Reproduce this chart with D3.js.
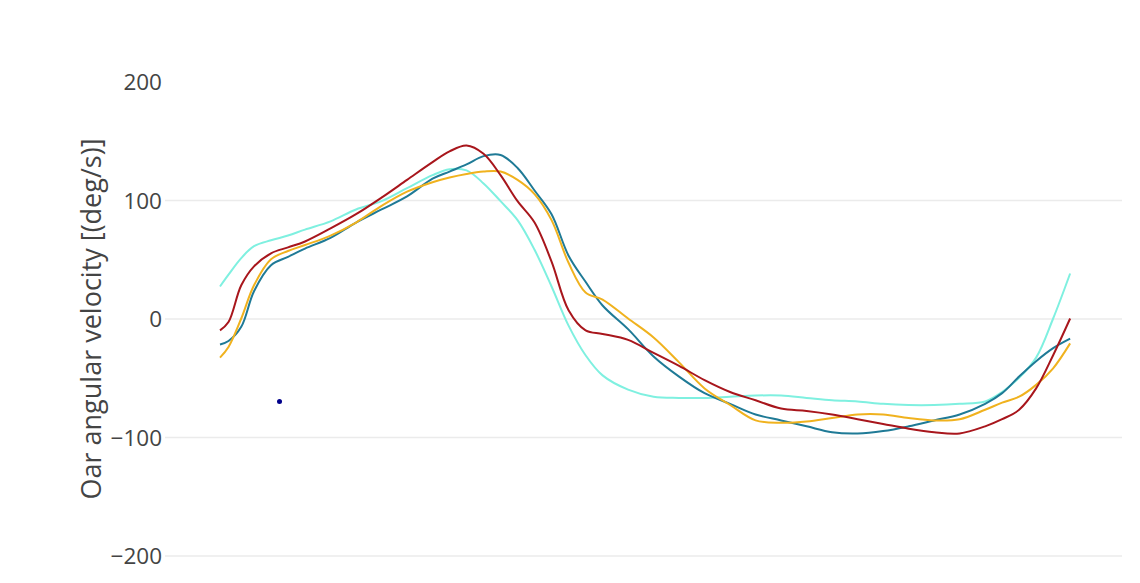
<!DOCTYPE html>
<html>
<head>
<meta charset="utf-8">
<script src="https://cdn.jsdelivr.net/npm/d3@7"></script>
<style>
  body { margin: 0; background: #fff; }
  .grid line { stroke: #ebebeb; stroke-width: 1.5; }
  .grid path { display: none; }
  .yaxis path, .yaxis line { display: none; }
  .yaxis text { font-family: "Open Sans", sans-serif; font-size: 22.5px; fill: #444; }
</style>
</head>
<body>
<div id="chart"></div>
<script>
// phase of the stroke (% of cycle), shared by all four traces
const phase = [0, 1, 2.5, 4, 6, 8, 10, 13, 16, 19, 22, 25, 27, 29, 31, 33, 35, 37, 39, 41, 43, 45,
  48, 51, 54, 57, 60, 63, 66, 69, 72, 75, 78, 81, 84, 87, 90, 92, 94, 96, 98, 100];

const aquaVals = [27, 37, 51, 61, 66, 70, 75, 82, 92, 99, 110, 121, 126, 125, 114, 99, 83, 58, 27, -6, -31, -48,
  -60, -66, -67, -67, -66, -65, -65, -67, -69, -70, -72, -73, -73, -72, -70, -62, -50, -33, 0, 38];

const tealVals = [-22, -19, -7, 23, 45, 52, 59, 68, 81, 92, 103, 118, 124, 130, 137, 138, 127, 108, 88, 53, 31, 11,
  -9, -32, -49, -63, -72, -81, -86, -91, -96, -97, -95, -91, -86, -81, -72, -63, -49, -36, -25, -17];

const orangeVals = [-33, -24, 0, 28, 50, 57, 62, 70, 81, 95, 107, 115, 119, 122, 124, 124, 117, 105, 83, 47, 22, 16,
  0, -16, -37, -59, -73, -86, -88, -87, -84, -81, -81, -84, -86, -85, -77, -71, -66, -56, -42, -21];

const redVals = [-10, -3, 28, 44, 55, 60, 65, 76, 88, 102, 117, 132, 141, 146, 139, 121, 99, 81, 48, 7, -10, -13,
  -18, -29, -40, -52, -62, -69, -76, -78, -81, -85, -89, -93, -96, -97, -91, -85, -77, -59, -31, 0];

// single marker
const markerX = [7];
const markerY = [-70];

const yTicks = [-200, -100, 0, 100, 200];
const gridTicks = [-200, -100, 0, 100];

const series = [
  { name: "aqua", values: aquaVals, color: "#7ff0e0" },
  { name: "teal", values: tealVals, color: "#1f7a96" },
  { name: "orange", values: orangeVals, color: "#f0b21e" },
  { name: "red", values: redVals, color: "#a8161c" }
];

const width = 1140, height = 583;

const svg = d3.select("#chart").append("svg")
  .attr("width", width)
  .attr("height", height);

const x = d3.scaleLinear().domain([-6.47, 106.1]).range([165, 1122]);
const y = d3.scaleLinear().domain([-200, 200]).range([555.5, 81.5]);

// horizontal grid
svg.append("g")
  .attr("class", "grid")
  .attr("transform", "translate(165,0)")
  .call(d3.axisLeft(y).tickValues(gridTicks).tickSize(-(1122 - 165)).tickFormat(""));

// y axis labels
svg.append("g")
  .attr("class", "yaxis")
  .attr("transform", "translate(162,0)")
  .call(d3.axisLeft(y).tickValues(yTicks).tickSize(0).tickPadding(0)
    .tickFormat(d => d < 0 ? "\u2212" + Math.abs(d) : d))
  .selectAll("text").attr("dy", "0.36em");

// y axis title
svg.append("text")
  .attr("transform", "translate(101,319) rotate(-90)")
  .attr("text-anchor", "middle")
  .style("font-family", "'Open Sans', sans-serif")
  .style("font-size", "27px")
  .style("fill", "#444")
  .text("Oar angular velocity [(deg/s)]");

const line = d3.line()
  .x((d, i) => x(phase[i]))
  .y(d => y(d))
  .curve(d3.curveCatmullRom.alpha(0.5));

svg.append("g").selectAll("path")
  .data(series)
  .enter()
  .append("path")
  .attr("d", s => line(s.values))
  .attr("fill", "none")
  .attr("stroke", s => s.color)
  .attr("stroke-width", 2);

svg.append("g").selectAll("circle")
  .data(markerX)
  .enter()
  .append("circle")
  .attr("cx", d => x(d))
  .attr("cy", (d, i) => y(markerY[i]))
  .attr("r", 2.5)
  .attr("fill", "#00008b");
</script>
</body>
</html>
